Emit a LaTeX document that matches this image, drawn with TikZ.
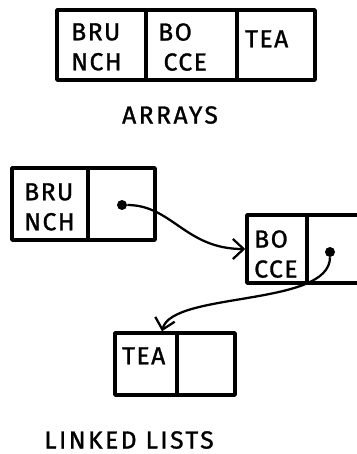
\documentclass[tikz,border=0pt]{standalone}
\usepackage{fontspec}
\setsansfont[FakeBold=1.2]{Fira Sans}
\usetikzlibrary{arrows.meta}

\begin{document}
\begin{tikzpicture}[
        x=0.75pt, y=-0.75pt,
        cell/.style={draw, line width=2.6pt, line join=round, inner sep=0pt},
        word/.style={font=\sffamily\fontsize{18.5}{22.5}\selectfont\addfontfeature{LetterSpace=6}, align=left, anchor=north west, inner sep=0pt},
        title/.style={font=\sffamily\fontsize{18.5}{22}\selectfont\addfontfeature{LetterSpace=10}, inner sep=0pt},
        dot/.style={circle, fill=black, minimum size=7.5pt, inner sep=0pt},
        link/.style={line width=1.7pt, -{Straight Barb[length=8pt, width=15pt]}}
    ]
        \useasboundingbox (0,0) rectangle (357,454);

        % Array
        \node[cell, minimum width=66.75pt, minimum height=52.5pt] (a1) at (101.5,45) {};
        \node[cell, minimum width=68.25pt, minimum height=52.5pt] (a2) at (191.5,45) {};
        \node[cell, minimum width=58.5pt, minimum height=52.5pt] (a3) at (276,45) {};
        \node[word] (w1) at (71,23) {BRU\\NCH};
        \node[word] (w2) at (158,23) {BO\\\hspace*{4pt}CCE};
        \node[word] (w3) at (245,30) {TEA};
        \node[title] (arrays) at (170,115) {ARRAYS};

        % Linked list
        \node[cell, minimum width=57pt, minimum height=54pt] (l1a) at (50,204) {};
        \node[cell, minimum width=50.25pt, minimum height=54pt] (l1b) at (121.5,204) {};
        \node[cell, minimum width=45pt, minimum height=51pt] (l2a) at (277,249) {};
        \node[cell, minimum width=47.25pt, minimum height=51pt] (l2b) at (338.5,249) {};
        \node[cell, minimum width=46.5pt, minimum height=46.5pt] (l3a) at (146,364) {};
        \node[cell, minimum width=43.5pt, minimum height=46.5pt] (l3b) at (206,364) {};

        \node[word] (n1) at (24,183) {BRU\\NCH};
        \node[word] (n2) at (254,230) {BO\\CCE};
        \node[word] (n3) at (122,347) {TEA};

        \node[dot] (d1) at (122,205) {};
        \node[dot] (d2) at (330,252) {};

        \draw[link] (d1) .. controls +(50,0) and +(-60,0) .. (l2a.west);
        \draw[link] (d2) .. controls +(0,55) and +(10,-40) .. ([xshift=12pt]l3a.north);

        \node[title] (lists) at (129,440) {LINKED LISTS};
\end{tikzpicture}
\end{document}
